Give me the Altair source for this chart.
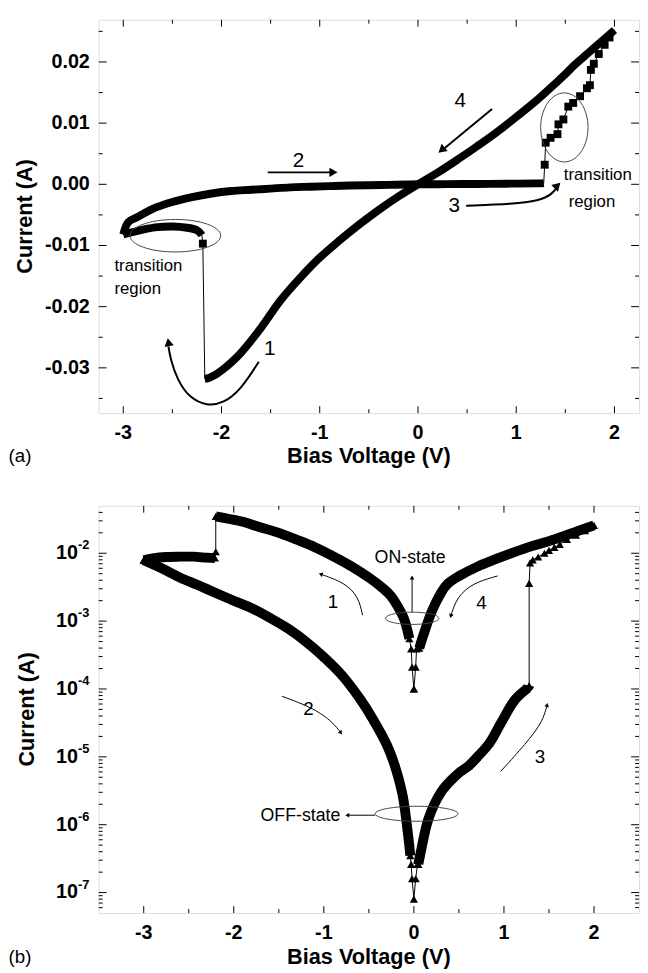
import altair as alt
import pandas as pd

FONT = "Liberation Sans"
W, HA, HB = 548, 399, 413

# ---------------- panel (a): linear current ----------------
a_on1_v = [0.0, -0.2, -0.4, -0.6, -0.8, -1.0, -1.2, -1.4, -1.6, -1.8, -1.95, -2.05, -2.12, -2.17]
a_on1_i = [0.0, -0.0020, -0.0042, -0.0066, -0.0092, -0.0120, -0.0153, -0.0190, -0.0235, -0.0275, -0.0298, -0.0310, -0.0316, -0.0318]
a_trl_v = [-2.19, -2.20, -2.25, -2.35, -2.5, -2.65, -2.8, -2.9, -3.0]
a_trl_i = [-0.0097, -0.0083, -0.0075, -0.0071, -0.0069, -0.0070, -0.0074, -0.0078, -0.0082]
a_off_v = [-3.0, -2.95, -2.85, -2.7, -2.5, -2.3, -2.1, -1.9, -1.7, -1.5, -1.3, -1.1, -0.9, -0.7, -0.5, -0.3, -0.1, 0.0, 0.3, 0.6, 0.9, 1.2, 1.28]
a_off_i = [-0.0082, -0.0062, -0.0053, -0.0040, -0.0029, -0.0021, -0.0015, -0.0011, -0.0009, -0.0007, -0.0005, -0.0004, -0.0003, -0.0002, -0.00015, -0.0001, -0.00003, 0.0, 0.00003, 0.00006, 0.0001, 0.00015, 0.0002]
a_trr_v = [1.29, 1.30, 1.35, 1.42, 1.43, 1.48, 1.53, 1.58, 1.65, 1.72, 1.75, 1.76, 1.79, 1.84, 1.90, 1.95]
a_trr_i = [0.0032, 0.0068, 0.0076, 0.0082, 0.0098, 0.0106, 0.0127, 0.0133, 0.0144, 0.0157, 0.0162, 0.0187, 0.0197, 0.0213, 0.0228, 0.0240]
a_on4_v = [2.0, 1.9, 1.8, 1.7, 1.6, 1.5, 1.4, 1.2, 1.0, 0.8, 0.6, 0.4, 0.2, 0.0]
a_on4_i = [0.0252, 0.0238, 0.0224, 0.0210, 0.0196, 0.0180, 0.0165, 0.0136, 0.0110, 0.0085, 0.0062, 0.0040, 0.0019, 0.0]

a_xmaj = [-3, -2, -1, 0, 1, 2]
a_xlab = ["-3", "-2", "-1", "0", "1", "2"]
a_xmin = [-2.5, -1.5, -0.5, 0.5, 1.5]
a_ymaj = [-0.03, -0.02, -0.01, 0.0, 0.01, 0.02]
a_ylab = ["-0.03", "-0.02", "-0.01", "0.00", "0.01", "0.02"]
a_ymin = [-0.035, -0.025, -0.015, -0.005, 0.005, 0.015, 0.025]

# annotations (a)
a_arrow_names = ["2", "4", "3", "1"]
a_arrow_v = [[-1.53, -0.88], [0.754, 0.27], [0.49, 0.97, 1.23, 1.37, 1.42],
             [-1.62, -1.80, -1.98, -2.15, -2.32, -2.45, -2.52, -2.54]]
a_arrow_i = [[0.00195, 0.00195], [0.0123, 0.0059], [-0.0035, -0.0032, -0.0027, -0.0016, -0.0003],
             [-0.0290, -0.0335, -0.0358, -0.0362, -0.0350, -0.0320, -0.0285, -0.0265]]
a_head_v = [-0.86, 0.24, 1.42, -2.54]
a_head_i = [0.00195, 0.0056, -0.0002, -0.0258]
a_head_ang = [90, 230, 45, 350]
a_num_t = ["2", "4", "3", "1"]
a_num_v = [-1.215, 0.43, 0.37, -1.51]
a_num_i = [0.00385, 0.0136, -0.0035, -0.0270]
a_note_t = ["transition", "region", "transition", "region"]
a_note_v = [-3.09, -3.09, 1.484, 1.534]
a_note_i = [-0.0133, -0.0171, 0.00145, -0.00285]
a_ell_v = [-2.47, 1.49]
a_ell_i = [-0.0084, 0.0093]
a_ell_a = [46, 24]
a_ell_b = [16.5, 35]

# ---------------- panel (b): log current ----------------
b_onc_v = [0.0, -0.02, -0.03, 0.03, 0.02, 0.0]
b_onc_i = [1.0e-4, 2.1e-4, 3.9e-4, 3.9e-4, 2.1e-4, 1.0e-4]
b_on1_v = [-0.05, -0.1, -0.15, -0.25, -0.35, -0.5, -0.7, -0.9, -1.1, -1.3, -1.5, -1.7, -1.9, -2.05, -2.2]
b_on1_i = [5.5e-4, 1.0e-3, 1.4e-3, 2.3e-3, 3.1e-3, 4.4e-3, 6.5e-3, 9.1e-3, 1.23e-2, 1.58e-2, 2.0e-2, 2.4e-2, 2.9e-2, 3.2e-2, 3.5e-2]
b_trl_v = [-2.2, -2.21, -2.3, -2.45, -2.6, -2.75, -2.9, -3.0]
b_trl_i = [1.05e-2, 8.5e-3, 8.6e-3, 8.9e-3, 8.9e-3, 8.8e-3, 8.4e-3, 7.9e-3]
b_off_v = [-3.0, -2.8, -2.6, -2.4, -2.2, -2.0, -1.8, -1.6, -1.4, -1.2, -1.0, -0.8, -0.6, -0.45, -0.3, -0.2, -0.12, -0.06, -0.04]
b_off_i = [7.9e-3, 6.0e-3, 4.4e-3, 3.4e-3, 2.6e-3, 2.0e-3, 1.55e-3, 1.12e-3, 7.8e-4, 5.0e-4, 2.95e-4, 1.6e-4, 7.2e-5, 3.5e-5, 1.5e-5, 6.6e-6, 2.5e-6, 6.3e-7, 3.5e-7]
b_offc_v = [-0.03, -0.02, 0.0, 0.02, 0.04]
b_offc_i = [2.6e-7, 1.6e-7, 8.0e-8, 1.6e-7, 2.6e-7]
b_off3_v = [0.05, 0.07, 0.16, 0.30, 0.48, 0.61, 0.70, 0.84, 0.97, 1.11, 1.25, 1.28]
b_off3_i = [2.6e-7, 3.6e-7, 1.2e-6, 3.0e-6, 5.5e-6, 7.4e-6, 9.8e-6, 1.6e-5, 3.2e-5, 6.6e-5, 1.0e-4, 1.12e-4]
b_trr_v = [1.28, 1.29, 1.32, 1.38, 1.45, 1.50, 1.56, 1.62, 1.70, 1.80, 1.90]
b_trr_i = [3.6e-3, 7.2e-3, 8.0e-3, 8.8e-3, 1.0e-2, 1.1e-2, 1.22e-2, 1.35e-2, 1.6e-2, 1.85e-2, 2.15e-2]
b_on4_v = [2.0, 1.85, 1.7, 1.5, 1.3, 1.1, 0.9, 0.7, 0.5, 0.38, 0.3, 0.2, 0.12, 0.06]
b_on4_i = [2.57e-2, 2.19e-2, 1.86e-2, 1.51e-2, 1.26e-2, 1.02e-2, 8.1e-3, 6.3e-3, 4.6e-3, 3.6e-3, 2.6e-3, 1.4e-3, 7.1e-4, 4.0e-4]

b_xmaj = [-3, -2, -1, 0, 1, 2]
b_xlab = ["-3", "-2", "-1", "0", "1", "2"]
b_xmin = [-2.5, -1.5, -0.5, 0.5, 1.5]
b_ymaj = [1e-7, 1e-6, 1e-5, 1e-4, 1e-3, 1e-2]
b_yexp = ["-7", "-6", "-5", "-4", "-3", "-2"]
b_ymin = [m * 10.0 ** e for e in range(-8, -1) for m in range(2, 10) if 5e-8 < m * 10.0 ** e < 5e-2]

b_arrow_names = ["1", "4", "2", "3", "on", "off"]
b_arrow_v = [[-0.57, -0.615, -0.764, -1.035], [0.93, 0.659, 0.478, 0.41],
             [-1.464, -1.103, -0.9, -0.81], [0.966, 1.246, 1.427, 1.48],
             [-0.02, -0.02], [-0.43, -0.74]]
b_arrow_i = [[1.22e-3, 2.28e-3, 3.66e-3, 4.92e-3], [4.63e-3, 3.66e-3, 2.28e-3, 1.19e-3],
             [7.8e-5, 5.16e-5, 3.22e-5, 2.26e-5], [6.14e-6, 1.58e-5, 3.22e-5, 5.82e-5],
             [1.35e-3, 4.4e-3], [1.38e-6, 1.38e-6]]
b_head_ang = [289, 198, 142, 16, 0, 270]
b_num_t = ["1", "4", "2", "3"]
b_num_v = [-0.90, 0.749, -1.17, 1.40]
b_num_i = [1.9e-3, 1.84e-3, 5.0e-5, 9.8e-6]
b_note_t = ["ON-state", "OFF-state"]
b_note_v = [-0.042, -1.26]
b_note_i = [8.6e-3, 1.35e-6]
b_ell_v = [-0.019, 0.03]
b_ell_i = [1.1e-3, 1.45e-6]
b_ell_a = [27, 42]
b_ell_b = [6.2, 7.6]


def seq(segs):
    rows, k = [], 0
    for name, vs, cs in segs:
        for v, c in zip(vs, cs):
            rows.append({"v": v, "i": c, "seg": name, "k": k})
            k += 1
    return pd.DataFrame(rows)


def arrows(names, vss, iss):
    rows = []
    for n, vs, cs in zip(names, vss, iss):
        for k, (v, c) in enumerate(zip(vs, cs)):
            rows.append({"arrow": n, "k": k, "v": v, "i": c})
    return pd.DataFrame(rows)


def ell_path(r):
    return f"M-1,0A1,{r} 0 1,1 1,0A1,{r} 0 1,1 -1,0Z"


def tick_layers(xs_maj, xs_min, ys_maj, ys_min, xs, ys, H):
    out = []
    for vals, L in ((xs_maj, 7), (xs_min, 4)):
        df = pd.DataFrame({"t": vals})
        base = alt.Chart(df).mark_rule(color="black", strokeWidth=1)
        out.append(base.encode(x=alt.X("t:Q", scale=xs, axis=None), y=alt.value(H), y2=alt.value(H - L)))
        out.append(base.encode(x=alt.X("t:Q", scale=xs, axis=None), y=alt.value(0), y2=alt.value(L)))
    for vals, L in ((ys_maj, 8), (ys_min, 4)):
        df = pd.DataFrame({"t": vals})
        base = alt.Chart(df).mark_rule(color="black", strokeWidth=1)
        out.append(base.encode(y=alt.Y("t:Q", scale=ys, axis=None), x=alt.value(0), x2=alt.value(L)))
        out.append(base.encode(y=alt.Y("t:Q", scale=ys, axis=None), x=alt.value(W), x2=alt.value(W - L)))
    return out


def xlabel_layer(vals, labs, xs, H):
    df = pd.DataFrame({"t": vals, "s": labs})
    return alt.Chart(df).mark_text(font=FONT, fontSize=20, fontWeight="bold", color="black",
                                   baseline="middle").encode(
        x=alt.X("t:Q", scale=xs, axis=None), y=alt.value(H + 20), text="s:N")


def X(s):
    return alt.X("v:Q", scale=s, axis=None)


def Y(s):
    return alt.Y("i:Q", scale=s, axis=None)


# ---------------- build panel (a) ----------------
xa = alt.Scale(domain=[-3.25, 2.25], nice=False, zero=False)
ya = alt.Scale(domain=[-0.0374, 0.0269], nice=False, zero=False)

dfa = seq([("on1", a_on1_v, a_on1_i), ("trl", a_trl_v, a_trl_i), ("off", a_off_v, a_off_i),
           ("trr", a_trr_v, a_trr_i), ("on4", a_on4_v, a_on4_i)])
dfa_thick = dfa[(dfa["seg"].isin(["on1", "off", "on4"])) | ((dfa["seg"] == "trl") & (dfa["v"] < -2.195))]
dfa_sq = dfa[(dfa["seg"] == "trr") | ((dfa["seg"] == "trl") & (dfa["v"] > -2.195))]

la = []
la.append(alt.Chart(dfa).mark_line(color="black", strokeWidth=1).encode(x=X(xa), y=Y(ya), order="k:Q"))
la.append(alt.Chart(dfa_thick).mark_line(color="black", strokeWidth=8, interpolate="cardinal",
                                         strokeJoin="round").encode(x=X(xa), y=Y(ya), detail="seg:N", order="k:Q"))
la.append(alt.Chart(dfa_sq).mark_square(color="black", size=64, opacity=1).encode(x=X(xa), y=Y(ya)))

arr_a = arrows(a_arrow_names, a_arrow_v, a_arrow_i)
la.append(alt.Chart(arr_a).mark_line(color="black", strokeWidth=2, interpolate="basis").encode(
    x=X(xa), y=Y(ya), detail="arrow:N", order="k:Q"))
heads_a = pd.DataFrame({"v": a_head_v, "i": a_head_i, "ang": a_head_ang})
la.append(alt.Chart(heads_a).mark_point(shape="triangle-up", filled=True, color="black", size=90, opacity=1).encode(
    x=X(xa), y=Y(ya), angle=alt.Angle("ang:Q", scale=None)))
la.append(alt.Chart(pd.DataFrame({"t": a_num_t, "v": a_num_v, "i": a_num_i})).mark_text(
    font=FONT, fontSize=21, color="black").encode(x=X(xa), y=Y(ya), text="t:N"))
la.append(alt.Chart(pd.DataFrame({"t": a_note_t, "v": a_note_v, "i": a_note_i})).mark_text(
    font=FONT, fontSize=17, color="black", align="left").encode(x=X(xa), y=Y(ya), text="t:N"))
for v, c, a, b in zip(a_ell_v, a_ell_i, a_ell_a, a_ell_b):
    la.append(alt.Chart(pd.DataFrame({"v": [v], "i": [c]})).mark_point(
        shape=ell_path(round(b / a, 4)), size=(2 * a) ** 2, filled=False, color="#444", strokeWidth=1,
        opacity=1).encode(x=X(xa), y=Y(ya)))
la += tick_layers(a_xmaj, a_xmin, a_ymaj, a_ymin, xa, ya, HA)
la.append(xlabel_layer(a_xmaj, a_xlab, xa, HA))
la.append(alt.Chart(pd.DataFrame({"t": a_ymaj, "s": a_ylab})).mark_text(
    font=FONT, fontSize=20, fontWeight="bold", color="black", align="right", baseline="middle").encode(
    y=alt.Y("t:Q", scale=ya, axis=None), x=alt.value(-9), text="s:N"))
lab_a = pd.DataFrame({"t": ["Current (A)"]})
la.append(alt.Chart(lab_a).mark_text(font=FONT, fontSize=22, fontWeight="bold", angle=270, color="black").encode(
    x=alt.value(-75), y=alt.value(HA / 2), text="t:N"))
la.append(alt.Chart(pd.DataFrame({"t": ["Bias Voltage (V)"]})).mark_text(
    font=FONT, fontSize=22, fontWeight="bold", color="black").encode(
    x=alt.value(W / 2), y=alt.value(HA + 44), text="t:N"))
la.append(alt.Chart(pd.DataFrame({"t": ["(a)"]})).mark_text(
    font=FONT, fontSize=19, color="black", align="left").encode(
    x=alt.value(-91.5), y=alt.value(HA + 44), text="t:N"))
top = alt.layer(*la).properties(width=W, height=HA)

# ---------------- build panel (b) ----------------
xb = alt.Scale(domain=[-3.5, 2.5], nice=False, zero=False)
yb = alt.Scale(type="log", domain=[5e-8, 5e-2], nice=False)

dfb = seq([("c1", b_onc_v[:3], b_onc_i[:3]), ("on1", b_on1_v, b_on1_i), ("trl", b_trl_v, b_trl_i),
           ("off", b_off_v, b_off_i), ("offc", b_offc_v, b_offc_i), ("off3", b_off3_v, b_off3_i),
           ("trr", b_trr_v, b_trr_i), ("on4", b_on4_v, b_on4_i), ("c2", b_onc_v[3:], b_onc_i[3:])])
dfb_thick = dfb[(dfb["seg"].isin(["on1", "off", "off3", "on4"])) | ((dfb["seg"] == "trl") & (dfb["v"] < -2.205))]

lb = []
lb.append(alt.Chart(dfb).mark_line(color="black", strokeWidth=1).encode(x=X(xb), y=Y(yb), order="k:Q"))
lb.append(alt.Chart(dfb_thick).mark_line(color="black", strokeWidth=10, interpolate="cardinal",
                                         strokeJoin="round").encode(x=X(xb), y=Y(yb), detail="seg:N", order="k:Q"))
lb.append(alt.Chart(dfb).mark_point(shape="triangle-up", filled=True, color="black", size=70, opacity=1).encode(
    x=X(xb), y=Y(yb)))

arr_b = arrows(b_arrow_names, b_arrow_v, b_arrow_i)
lb.append(alt.Chart(arr_b).mark_line(color="black", strokeWidth=1, interpolate="basis").encode(
    x=X(xb), y=Y(yb), detail="arrow:N", order="k:Q"))
heads_b = pd.DataFrame({"v": [vs[-1] for vs in b_arrow_v], "i": [cs[-1] for cs in b_arrow_i], "ang": b_head_ang})
lb.append(alt.Chart(heads_b).mark_point(shape="triangle-up", filled=True, color="black", size=22, opacity=1).encode(
    x=X(xb), y=Y(yb), angle=alt.Angle("ang:Q", scale=None)))
lb.append(alt.Chart(pd.DataFrame({"t": b_num_t, "v": b_num_v, "i": b_num_i})).mark_text(
    font=FONT, fontSize=19, color="black").encode(x=X(xb), y=Y(yb), text="t:N"))
lb.append(alt.Chart(pd.DataFrame({"t": b_note_t, "v": b_note_v, "i": b_note_i})).mark_text(
    font=FONT, fontSize=18, color="black").encode(x=X(xb), y=Y(yb), text="t:N"))
for v, c, a, b in zip(b_ell_v, b_ell_i, b_ell_a, b_ell_b):
    lb.append(alt.Chart(pd.DataFrame({"v": [v], "i": [c]})).mark_point(
        shape=ell_path(round(b / a, 4)), size=(2 * a) ** 2, filled=False, color="#444", strokeWidth=1,
        opacity=1).encode(x=X(xb), y=Y(yb)))
lb += tick_layers(b_xmaj, b_xmin, b_ymaj, b_ymin, xb, yb, HB)
lb.append(xlabel_layer(b_xmaj, b_xlab, xb, HB))
ylab_b = pd.DataFrame({"t": b_ymaj, "e": b_yexp, "base": ["10"] * len(b_ymaj)})
lb.append(alt.Chart(ylab_b).mark_text(font=FONT, fontSize=20, fontWeight="bold", align="right",
                                      baseline="middle", color="black").encode(
    y=alt.Y("t:Q", scale=yb, axis=None), x=alt.value(-21), text="base:N"))
lb.append(alt.Chart(ylab_b).mark_text(font=FONT, fontSize=13, fontWeight="bold", align="left",
                                      baseline="middle", dy=-8, color="black").encode(
    y=alt.Y("t:Q", scale=yb, axis=None), x=alt.value(-21), text="e:N"))
lb.append(alt.Chart(lab_a).mark_text(font=FONT, fontSize=22, fontWeight="bold", angle=270, color="black").encode(
    x=alt.value(-73), y=alt.value(HB / 2), text="t:N"))
lb.append(alt.Chart(pd.DataFrame({"t": ["Bias Voltage (V)"]})).mark_text(
    font=FONT, fontSize=22, fontWeight="bold", color="black").encode(
    x=alt.value(W / 2), y=alt.value(HB + 45), text="t:N"))
lb.append(alt.Chart(pd.DataFrame({"t": ["(b)"]})).mark_text(
    font=FONT, fontSize=19, color="black", align="left").encode(
    x=alt.value(-91.5), y=alt.value(HB + 45), text="t:N"))
bot = alt.layer(*lb).properties(width=W, height=HB)

chart = alt.vconcat(top, bot, spacing=37).properties(
    padding={"left": 0, "right": 0, "top": 4, "bottom": 0}
).configure_view(stroke="black", strokeWidth=1.5).configure(background="white")

chart.save("out.html", embed_options={"renderer": "svg", "actions": False})
